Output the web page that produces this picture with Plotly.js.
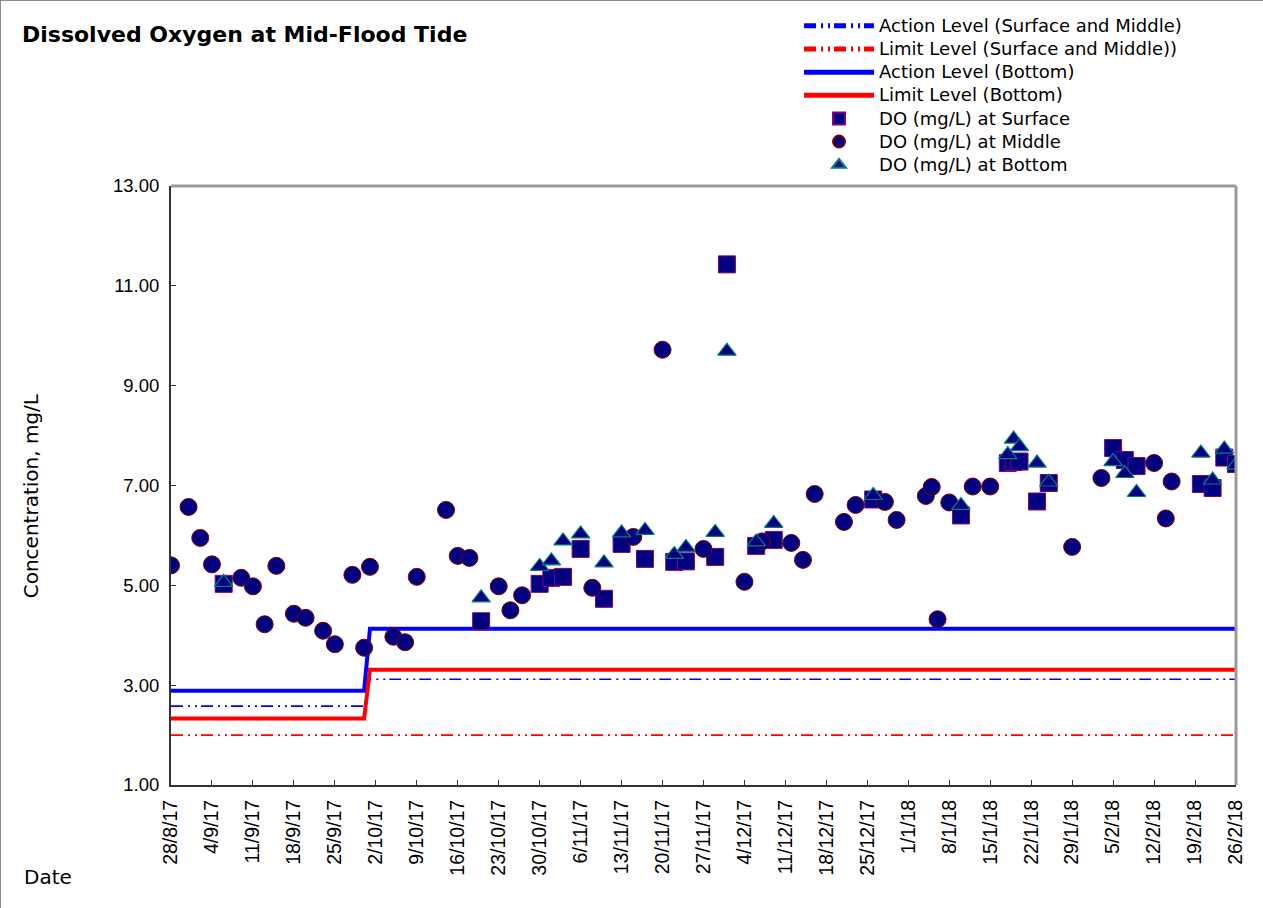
<!DOCTYPE html>
<html>
<head>
<meta charset="utf-8">
<script src="https://cdn.plot.ly/plotly-3.0.1.min.js"></script>
<style>
html,body{margin:0;padding:0;background:#fff;}
#chart{width:1263px;height:908px;box-sizing:border-box;border:1px solid #888;}
.legendtext{font-size:18px !important;}
</style>
</head>
<body>
<div id="chart"></div>
<script>
// ---- data ----
const levelDates = ['2017-08-28','2017-09-30','2017-10-01','2018-02-26'];
const actionSM = [2.58, 2.58, 3.12, 3.12];
const limitSM = [2.0, 2.0, 2.0, 2.0];
const actionBottom = [2.89, 2.89, 4.13, 4.13];
const limitBottom = [2.33, 2.33, 3.31, 3.31];

const middleDates = ['2017-08-28','2017-08-31','2017-09-02','2017-09-04','2017-09-09','2017-09-11','2017-09-13','2017-09-15','2017-09-18','2017-09-20','2017-09-23','2017-09-25','2017-09-28','2017-09-30','2017-10-01','2017-10-05','2017-10-07','2017-10-09','2017-10-14','2017-10-16','2017-10-18','2017-10-23','2017-10-25','2017-10-27','2017-11-08','2017-11-15','2017-11-20','2017-11-27','2017-12-04','2017-12-07','2017-12-12','2017-12-14','2017-12-16','2017-12-21','2017-12-23','2017-12-28','2017-12-30','2018-01-04','2018-01-05','2018-01-06','2018-01-08','2018-01-12','2018-01-15','2018-01-29','2018-02-03','2018-02-12','2018-02-14','2018-02-15'];
const middleDO = [5.40,6.57,5.95,5.42,5.15,4.98,4.22,5.39,4.43,4.35,4.09,3.82,5.21,3.75,5.37,3.97,3.86,5.17,6.51,5.59,5.55,4.98,4.50,4.80,4.95,5.97,9.72,5.73,5.07,5.88,5.85,5.51,6.83,6.27,6.61,6.67,6.31,6.79,6.97,4.32,6.66,6.98,6.98,5.77,7.15,7.45,6.34,7.08];

const sbDates = ['2017-09-06','2017-10-20','2017-10-30','2017-11-01','2017-11-03','2017-11-06','2017-11-10','2017-11-13','2017-11-17','2017-11-22','2017-11-24','2017-11-29','2017-12-01','2017-12-06','2017-12-09','2017-12-26','2018-01-10','2018-01-18','2018-01-19','2018-01-20','2018-01-23','2018-01-25','2018-02-05','2018-02-07','2018-02-09','2018-02-20','2018-02-22','2018-02-24','2018-02-26'];
const surfaceDO = [5.03,4.28,5.03,5.15,5.17,5.73,4.73,5.83,5.53,5.47,5.48,5.57,11.43,5.79,5.91,6.72,6.40,7.45,7.47,7.48,6.68,7.05,7.75,7.51,7.39,7.03,6.95,7.56,7.43];
const bottomDO = [5.06,4.75,5.38,5.49,5.89,6.03,5.45,6.05,6.10,5.62,5.76,6.06,9.69,5.87,6.24,6.80,6.60,7.62,7.93,7.78,7.45,7.07,7.48,7.24,6.86,7.65,7.11,7.73,7.41];

const tickDates = ['2017-08-28','2017-09-04','2017-09-11','2017-09-18','2017-09-25','2017-10-02','2017-10-09','2017-10-16','2017-10-23','2017-10-30','2017-11-06','2017-11-13','2017-11-20','2017-11-27','2017-12-04','2017-12-11','2017-12-18','2017-12-25','2018-01-01','2018-01-08','2018-01-15','2018-01-22','2018-01-29','2018-02-05','2018-02-12','2018-02-19','2018-02-26'];
const tickLabels = ['28/8/17','4/9/17','11/9/17','18/9/17','25/9/17','2/10/17','9/10/17','16/10/17','23/10/17','30/10/17','6/11/17','13/11/17','20/11/17','27/11/17','4/12/17','11/12/17','18/12/17','25/12/17','1/1/18','8/1/18','15/1/18','22/1/18','29/1/18','5/2/18','12/2/18','19/2/18','26/2/18'];
const yTicks = [1,3,5,7,9,11,13];
const yTickLabels = ['1.00','3.00','5.00','7.00','9.00','11.00','13.00'];

const FONT = '"Liberation Sans", Arial, sans-serif';
const WIDE = '"DejaVu Sans", sans-serif';
const dashDD = '12px,5px,2px,5px,2px,4px';

const traces = [
  {x: levelDates, y: actionSM, mode: 'lines', name: 'Action Level (Surface and Middle)',
   line: {color: '#0000FF', width: 1.6, dash: dashDD}},
  {x: levelDates, y: limitSM, mode: 'lines', name: 'Limit Level (Surface and Middle))',
   line: {color: '#FF0000', width: 1.6, dash: dashDD}},
  {x: levelDates, y: actionBottom, mode: 'lines', name: 'Action Level (Bottom)',
   line: {color: '#0000FF', width: 4}},
  {x: levelDates, y: limitBottom, mode: 'lines', name: 'Limit Level (Bottom)',
   line: {color: '#FF0000', width: 4}},
  {x: sbDates, y: surfaceDO, mode: 'markers', name: 'DO (mg/L) at Surface',
   marker: {symbol: 'square', size: 17, color: '#000080', line: {color: '#800080', width: 1}}},
  {x: middleDates, y: middleDO, mode: 'markers', name: 'DO (mg/L) at Middle',
   marker: {symbol: 'circle', size: 17, color: '#000080', line: {color: '#800000', width: 1}}},
  {x: sbDates, y: bottomDO, mode: 'markers', name: 'DO (mg/L) at Bottom',
   marker: {symbol: 'triangle-up', size: 16, color: '#000080', line: {color: '#008080', width: 1.2}}}
];

const layout = {
  width: 1263, height: 908,
  margin: {l: 170, r: 28, t: 185, b: 124, autoexpand: false},
  paper_bgcolor: '#fff', plot_bgcolor: '#fff',
  font: {family: FONT, size: 18, color: '#000'},
  title: {text: '<b>Dissolved Oxygen at Mid-Flood Tide</b>', font: {family: WIDE, size: 22, color: '#000'},
          x: 21/1263, xref: 'container', xanchor: 'left', y: 1 - 33/908, yref: 'container', yanchor: 'middle'},
  showlegend: true,
  legend: {x: 0.5897, xanchor: 'left', y: 1.2950, yanchor: 'top', font: {family: WIDE, size: 15.5, color: '#000'},
           bgcolor: 'rgba(0,0,0,0)', itemwidth: 70, tracegroupgap: 0, itemsizing: 'constant'},
  xaxis: {type: 'date', range: ['2017-08-28', '2018-02-26'], tickmode: 'array', tickvals: tickDates, ticktext: tickLabels,
          tickangle: -90, ticks: 'inside', ticklen: 5, tickcolor: '#333', showgrid: false, zeroline: false,
          showline: true, linecolor: '#333', linewidth: 2, tickfont: {family: FONT, size: 19.5, color: '#000'},
          ticklabelstandoff: 5},
  yaxis: {range: [1, 13], tickmode: 'array', tickvals: yTicks, ticktext: yTickLabels, ticks: 'inside', ticklen: 5,
          tickcolor: '#333', showgrid: false, zeroline: false, showline: true, linecolor: '#333', linewidth: 2,
          tickfont: {family: FONT, size: 18.5, color: '#000'}, ticklabelstandoff: 6},
  shapes: [
    {type: 'line', xref: 'paper', yref: 'paper', x0: 0, x1: 1, y0: 1, y1: 1, line: {color: '#999', width: 3}},
    {type: 'line', xref: 'paper', yref: 'paper', x0: 1, x1: 1, y0: 0, y1: 1, line: {color: '#999', width: 3}}
  ],
  annotations: [
    {text: 'Concentration, mg/L', xref: 'paper', yref: 'paper', x: -140/1065, y: 0.482, xanchor: 'center', yanchor: 'middle',
     textangle: -90, showarrow: false, font: {family: WIDE, size: 20, color: '#000'}},
    {text: 'Date', xref: 'paper', yref: 'paper', x: -149/1065, y: -92/599, xanchor: 'left', yanchor: 'middle',
     showarrow: false, font: {family: WIDE, size: 20, color: '#000'}}
  ]
};

Plotly.newPlot('chart', traces, layout, {displayModeBar: false, responsive: false});
</script>
</body>
</html>
